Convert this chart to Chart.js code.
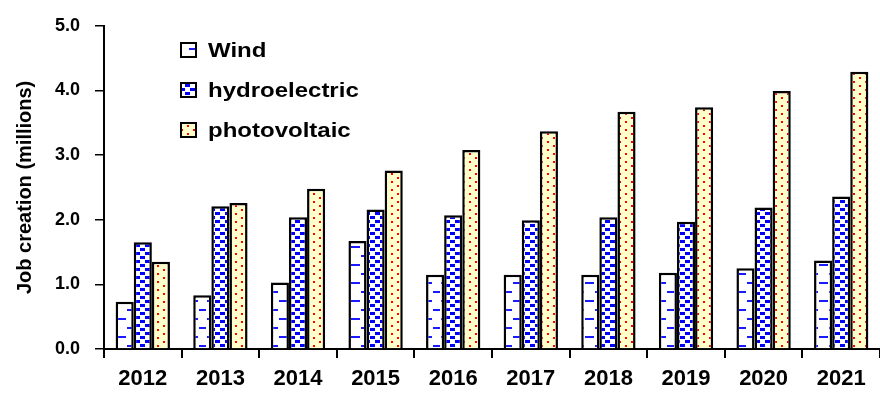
<!DOCTYPE html>
<html>
<head>
<meta charset="utf-8">
<script src="https://cdn.jsdelivr.net/npm/chart.js@4.4.0/dist/chart.umd.min.js"></script>
<style>
  html, body { margin: 0; padding: 0; background: #fff; }
  #wrap { width: 880px; height: 402px; }
</style>
</head>
<body>
<div id="wrap"><canvas id="jobChart" width="880" height="402"></canvas></div>
<script>
// Job creation by technology, millions
const years = ['2012', '2013', '2014', '2015', '2016', '2017', '2018', '2019', '2020', '2021'];
const windJobs = [0.73, 0.83, 1.03, 1.67, 1.15, 1.15, 1.15, 1.18, 1.25, 1.37];
const hydroJobs = [1.65, 2.21, 2.04, 2.16, 2.07, 1.99, 2.04, 1.97, 2.19, 2.36];
const pvJobs = [1.35, 2.26, 2.48, 2.76, 3.08, 3.37, 3.67, 3.74, 3.99, 4.29];
const seriesNames = ['Wind', 'hydroelectric', 'photovoltaic'];
const yTicks = [0, 1, 2, 3, 4, 5];

const FONT = '"Liberation Sans", Arial, sans-serif';

// small tiled fills to mimic the hatch patterns
function makePattern(w, h, bg, color, rects) {
    const c = document.createElement('canvas');
    c.width = w;
    c.height = h;
    const g = c.getContext('2d');
    g.fillStyle = bg;
    g.fillRect(0, 0, w, h);
    g.fillStyle = color;
    rects.forEach(r => g.fillRect(r[0], r[1], r[2], r[3]));
    return document.getElementById('jobChart').getContext('2d').createPattern(c, 'repeat');
}

const windFill = makePattern(18, 18, '#ffffff', '#1a1aff', [[1, 3, 7, 2], [9, 12, 9, 2]]);
const hydroFill = makePattern(10, 8, '#ffffff', '#0000ff', [[0, 0, 5, 3], [5, 4, 5, 3]]);
const pvFill = makePattern(12, 8, '#ffffcc', '#ff0000', [[1, 1, 2, 2], [7, 5, 2, 2]]);
const fills = [windFill, hydroFill, pvFill];

// legend drawn inside the plot area, text a little stretched like the original
const innerLegend = {
    id: 'innerLegend',
    afterDraw(chart) {
        const ctx = chart.ctx;
        ctx.save();
        chart.data.datasets.forEach((ds, i) => {
            const y = 50 + i * 40;
            ctx.fillStyle = ds.backgroundColor;
            ctx.fillRect(181, y - 7, 15, 14);
            ctx.strokeStyle = '#000';
            ctx.lineWidth = 2;
            ctx.strokeRect(181, y - 7, 15, 14);
            ctx.save();
            ctx.translate(208, y + 1);
            ctx.scale(1.2, 1);
            ctx.fillStyle = '#000';
            ctx.font = 'bold 20px ' + FONT;
            ctx.textBaseline = 'middle';
            ctx.fillText(ds.label, 0, 0);
            ctx.restore();
        });
        ctx.restore();
    }
};

new Chart(document.getElementById('jobChart'), {
    type: 'bar',
    data: {
        labels: years,
        datasets: [windJobs, hydroJobs, pvJobs].map((vals, i) => ({
            label: seriesNames[i],
            data: vals,
            backgroundColor: fills[i],
            borderColor: '#000',
            borderWidth: 2.5,
            borderSkipped: 'bottom',
            categoryPercentage: 0.7,
            barPercentage: 1.0
        }))
    },
    options: {
        responsive: false,
        animation: false,
        layout: { padding: { top: 24, right: 0, left: 0, bottom: 0 } },
        plugins: {
            legend: { display: false },
            tooltip: { enabled: false }
        },
        scales: {
            x: {
                offset: true,
                grid: {
                    offset: true,
                    drawOnChartArea: false,
                    drawTicks: true,
                    tickLength: 9,
                    color: '#000',
                    lineWidth: 2
                },
                border: { color: '#000', width: 2 },
                ticks: {
                    color: '#000',
                    font: { family: FONT, size: 22, weight: 'bold' },
                    padding: 8,
                    maxRotation: 0
                },
                afterFit: s => { s.height = 53; }
            },
            y: {
                min: 0,
                max: 5,
                afterBuildTicks: s => { s.ticks = yTicks.map(v => ({ value: v })); },
                grid: {
                    drawOnChartArea: false,
                    drawTicks: true,
                    tickLength: 9,
                    color: '#000',
                    lineWidth: 1.5
                },
                border: { color: '#000', width: 2 },
                ticks: {
                    color: '#000',
                    font: { family: FONT, size: 18, weight: 'bold' },
                    padding: 15,
                    callback: v => v.toFixed(1)
                },
                title: {
                    display: true,
                    text: 'Job creation (millions)',
                    color: '#000',
                    font: { family: FONT, size: 20, weight: 'bold' },
                    padding: { top: 13, bottom: 0 }
                },
                afterFit: s => { s.width = 104; }
            }
        }
    },
    plugins: [innerLegend]
});
</script>
</body>
</html>
